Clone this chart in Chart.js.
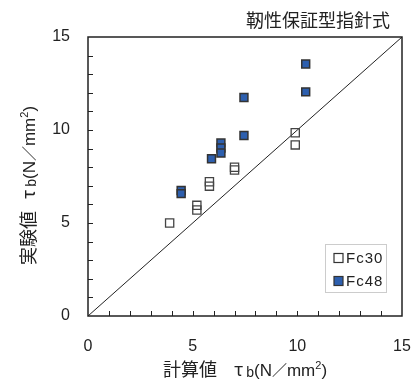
<!DOCTYPE html>
<html>
<head>
<meta charset="utf-8">
<script src="https://cdn.jsdelivr.net/npm/chart.js@4/dist/chart.umd.min.js"></script>
<style>
  html, body { margin: 0; padding: 0; background: #fff; }
</style>
</head>
<body>
<canvas id="myChart" width="417" height="387"></canvas>
<script>
// data
const fc30X = [3.9, 5.2, 5.2, 5.8, 5.8, 7.0, 7.0, 9.9, 9.9];
const fc30Y = [5.0, 5.95, 5.7, 7.22, 6.98, 8.0, 7.85, 9.85, 9.2];
const fc48X = [4.45, 4.45, 5.9, 6.35, 6.35, 6.35, 7.45, 7.45, 10.4, 10.4];
const fc48Y = [6.75, 6.58, 8.45, 9.3, 9.03, 8.76, 11.75, 9.7, 13.55, 12.05];
const diagX = [0, 15];
const diagY = [0, 15];
const tickLabels = [0, 5, 10, 15];

const chartTitle = "靭性保証型指針式";
const seriesNames = ["Fc30", "Fc48"];

const blue = "#2d5fae";
const edge = "#333";
const latin = '"Liberation Sans", Arial, sans-serif';
const jp = '"Noto Sans CJK JP", sans-serif';

// axis titles as runs so the b and the ² can be smaller
function titleRuns(head, gap) {
  return [
    { t: head, f: "18px " + jp },
    { gap: gap },
    { t: "τ", f: "18px " + jp },
    { gap: 3 },
    { t: "b", f: "14px " + latin, dy: 1 },
    { t: "(N", f: "17px " + latin },
    { t: "／", f: "15px " + jp },
    { t: "mm", f: "17px " + latin },
    { t: "2", f: "11px " + latin, dy: -7 },
    { t: ")", f: "17px " + latin }
  ];
}
const xTitleRuns = titleRuns("計算値", 17);
const yTitleRuns = titleRuns("実験値", 12);

function toPoints(xs, ys) {
  return xs.map((x, i) => ({ x: x, y: ys[i] }));
}

function drawRuns(ctx, runs, cx, cy, angle) {
  ctx.save();
  ctx.translate(cx, cy);
  ctx.rotate(angle);
  ctx.textBaseline = "alphabetic";
  ctx.textAlign = "left";
  let total = 0;
  runs.forEach((r) => {
    if (r.gap) { total += r.gap; return; }
    ctx.font = r.f;
    total += ctx.measureText(r.t).width;
  });
  let x = -total / 2;
  runs.forEach((r) => {
    if (r.gap) { x += r.gap; return; }
    ctx.font = r.f;
    ctx.fillText(r.t, x, 6 + (r.dy || 0));
    x += ctx.measureText(r.t).width;
  });
  ctx.restore();
}

// inward tick marks, plot frame, titles and legend box
const decorations = {
  id: "decorations",
  afterDatasetsDraw(chart) {
    const ctx = chart.ctx;
    const area = chart.chartArea;
    const xs = chart.scales.x;
    const ys = chart.scales.y;
    ctx.save();
    ctx.strokeStyle = "#222";
    ctx.lineWidth = 1;
    for (let v = 1; v < 15; v++) {
      const px = Math.round(xs.getPixelForValue(v)) + 0.5;
      ctx.beginPath();
      ctx.moveTo(px, area.bottom);
      ctx.lineTo(px, area.bottom - 5);
      ctx.stroke();
      const py = Math.round(ys.getPixelForValue(v)) + 0.5;
      ctx.beginPath();
      ctx.moveTo(area.left, py);
      ctx.lineTo(area.left + 5, py);
      ctx.stroke();
    }
    ctx.lineWidth = 1.5;
    ctx.strokeRect(area.left, area.top, area.right - area.left, area.bottom - area.top);

    ctx.fillStyle = "#222";
    ctx.font = "18px " + jp;
    ctx.textAlign = "right";
    ctx.textBaseline = "middle";
    ctx.fillText(chartTitle, area.right - 12, 20);

    drawRuns(ctx, xTitleRuns, (area.left + area.right) / 2, 370, 0);
    drawRuns(ctx, yTitleRuns, 29, (area.top + area.bottom) / 2 + 9, -Math.PI / 2);

    // legend box inside the plot
    const lx = area.right - 77, ly = area.bottom - 72;
    ctx.fillStyle = "#fff";
    ctx.fillRect(lx, ly, 61, 48);
    ctx.strokeStyle = "#ccc";
    ctx.lineWidth = 1;
    ctx.strokeRect(lx + 0.5, ly + 0.5, 61, 48);
    const fills = [null, blue];
    seriesNames.forEach((name, i) => {
      const cy = ly + 14 + i * 23;
      if (fills[i]) {
        ctx.fillStyle = fills[i];
        ctx.fillRect(lx + 9, cy - 4.5, 9, 9);
      }
      ctx.strokeStyle = edge;
      ctx.lineWidth = 1.2;
      ctx.strokeRect(lx + 9, cy - 4.5, 9, 9);
      ctx.fillStyle = "#222";
      ctx.font = "15px " + latin;
      ctx.letterSpacing = "1px";
      ctx.textAlign = "left";
      ctx.textBaseline = "middle";
      ctx.fillText(name, lx + 21, cy + 1);
      ctx.letterSpacing = "0px";
    });
    ctx.restore();
  }
};

const ctx = document.getElementById("myChart");
const data = {
  datasets: [
    {
      type: "scatter",
      label: seriesNames[1],
      data: toPoints(fc48X, fc48Y),
      pointStyle: "rect",
      pointRadius: 5.6,
      pointHoverRadius: 5.6,
      backgroundColor: blue,
      borderColor: edge,
      borderWidth: 1.5,
      order: 1
    },
    {
      type: "scatter",
      label: seriesNames[0],
      data: toPoints(fc30X, fc30Y),
      pointStyle: "rect",
      pointRadius: 5.8,
      pointHoverRadius: 5.8,
      backgroundColor: "rgba(0,0,0,0)",
      borderColor: "#444",
      borderWidth: 1.3,
      order: 2
    },
    {
      type: "line",
      label: "1:1",
      data: toPoints(diagX, diagY),
      borderColor: "#222",
      borderWidth: 1,
      pointRadius: 0,
      fill: false,
      order: 3
    }
  ]
};

const config = {
  type: "scatter",
  data: data,
  options: {
    responsive: false,
    animation: false,
    layout: { padding: { top: 37, right: 15, left: 0, bottom: 0 } },
    plugins: {
      legend: { display: false },
      tooltip: { enabled: false }
    },
    scales: {
      x: {
        type: "linear",
        min: 0,
        max: 15,
        afterFit: (scale) => { scale.height = 71; },
        ticks: {
          stepSize: 5,
          padding: 2,
          color: "#222",
          font: { family: latin, size: 16 },
          callback: (v) => (tickLabels.includes(v) ? v : "")
        },
        // tick marks are hidden; their length only pushes the labels down
        grid: { display: false, drawTicks: true, tickLength: 19 },
        border: { display: false }
      },
      y: {
        type: "linear",
        min: 0,
        max: 15,
        afterFit: (scale) => { scale.width = 88; },
        ticks: {
          stepSize: 5,
          padding: 2,
          color: "#222",
          font: { family: latin, size: 16 },
          callback: (v) => (tickLabels.includes(v) ? v : "")
        },
        grid: { display: false, drawTicks: true, tickLength: 16 },
        border: { display: false }
      }
    }
  },
  plugins: [decorations]
};

const myChart = new Chart(ctx, config);
</script>
</body>
</html>
